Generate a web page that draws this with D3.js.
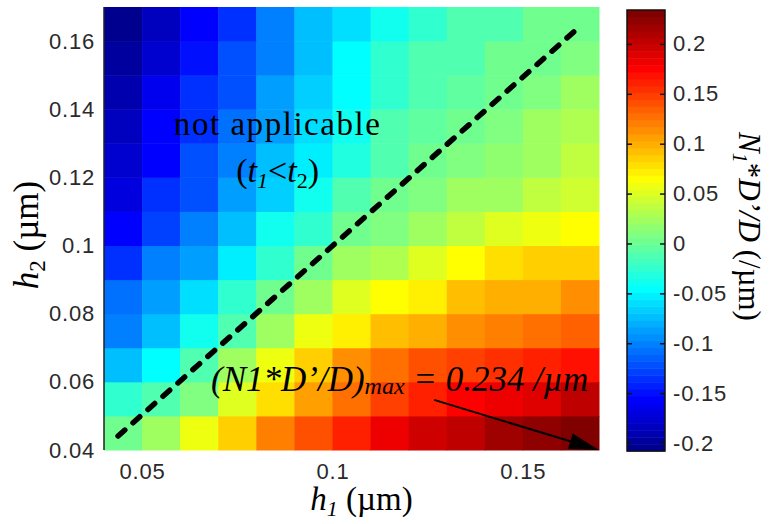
<!DOCTYPE html>
<html>
<head>
<meta charset="utf-8">
<script src="https://cdn.jsdelivr.net/npm/d3@7"></script>
<style>
  body { margin: 0; background: #fff; }
  svg { display: block; }
</style>
</head>
<body>
<svg id="chart" width="769" height="524"></svg>
<script>
// Grid corners (µm): each cell spans [h, h + step]
const h1 = [0.04, 0.05, 0.06, 0.07, 0.08, 0.09, 0.10, 0.11, 0.12, 0.13, 0.14, 0.15, 0.16];
const h2 = [0.04, 0.05, 0.06, 0.07, 0.08, 0.09, 0.10, 0.11, 0.12, 0.13, 0.14, 0.15, 0.16];

// N1*D'/D (/µm), one row per h2 (ascending), one column per h1
const ratio = [
  [ 0.000,  0.026,  0.057,  0.088,  0.117,  0.139,  0.159,  0.179,  0.194,  0.203,  0.216,  0.225,  0.234],
  [-0.027, -0.013,  0.013,  0.048,  0.079,  0.106,  0.128,  0.146,  0.163,  0.174,  0.179,  0.190,  0.201],
  [-0.071, -0.049, -0.013,  0.020,  0.057,  0.088,  0.110,  0.124,  0.139,  0.146,  0.154,  0.163,  0.168],
  [-0.098, -0.071, -0.036, -0.009,  0.026,  0.057,  0.075,  0.093,  0.101,  0.112,  0.119,  0.128,  0.137],
  [-0.111, -0.084, -0.062, -0.027,  0.000,  0.026,  0.048,  0.062,  0.075,  0.090,  0.097,  0.101,  0.110],
  [-0.133, -0.104, -0.084, -0.053, -0.022,  0.000,  0.020,  0.033,  0.048,  0.062,  0.077,  0.084,  0.088],
  [-0.153, -0.128, -0.104, -0.075, -0.042, -0.022,  0.000,  0.013,  0.026,  0.040,  0.048,  0.057,  0.062],
  [-0.170, -0.137, -0.120, -0.089, -0.067, -0.036, -0.013,  0.000,  0.013,  0.020,  0.026,  0.035,  0.044],
  [-0.179, -0.153, -0.124, -0.104, -0.075, -0.053, -0.031, -0.009,  0.000,  0.009,  0.017,  0.026,  0.035],
  [-0.186, -0.157, -0.133, -0.111, -0.084, -0.062, -0.036, -0.013, -0.005,  0.004,  0.013,  0.022,  0.031],
  [-0.190, -0.164, -0.137, -0.120, -0.089, -0.067, -0.044, -0.022, -0.011, -0.005,  0.004,  0.013,  0.020],
  [-0.195, -0.179, -0.146, -0.124, -0.098, -0.071, -0.049, -0.027, -0.013, -0.009,  0.000,  0.004,  0.013],
  [-0.208, -0.186, -0.153, -0.133, -0.098, -0.075, -0.058, -0.042, -0.027, -0.013, -0.009,  0.000,  0.000]
];

const xTicks = [0.05, 0.10, 0.15];
const yTicks = [0.04, 0.06, 0.08, 0.10, 0.12, 0.14, 0.16];
const cbTicks = [-0.2, -0.15, -0.1, -0.05, 0, 0.05, 0.1, 0.15, 0.2];

// Boundary line t1 = t2 and the annotated maximum (µm coordinates)
const equalLine = [[0.0437, 0.0441], [0.1655, 0.1648]];
const maxArrow = [[0.1267, 0.0547], [0.17, 0.04]];

// ---------------------------------------------------------------
const step = h1[1] - h1[0];
const svg = d3.select("#chart");

const plot = { left: 104, right: 599, top: 7, bottom: 450 };
const x = d3.scaleLinear().domain([h1[0], h1[h1.length - 1] + step]).range([plot.left, plot.right]);
const y = d3.scaleLinear().domain([h2[0], h2[h2.length - 1] + step]).range([plot.bottom, plot.top]);

// MATLAB-style jet(64) colormap
function jet(m) {
  const n = Math.ceil(m / 4);
  const u = [];
  for (let i = 1; i <= n; i++) u.push(i / n);
  for (let i = 1; i < n; i++) u.push(1);
  for (let i = n; i >= 1; i--) u.push(i / n);
  const off = Math.ceil(n / 2) - (m % 4 === 1 ? 1 : 0);
  const J = Array.from({ length: m }, () => [0, 0, 0]);
  u.forEach((val, k) => {
    const g = off + k + 1, r = g + n, b = g - n;
    if (g >= 1 && g <= m) J[g - 1][1] = val;
    if (r >= 1 && r <= m) J[r - 1][0] = val;
    if (b >= 1 && b <= m) J[b - 1][2] = val;
  });
  return J.map(c => d3.rgb(c[0] * 255, c[1] * 255, c[2] * 255).formatHex());
}
const jetColors = jet(64);
const cRange = d3.extent(ratio.flat());
const color = d3.scaleQuantize().domain(cRange).range(jetColors);

// Heatmap cells
const cells = [];
ratio.forEach((row, j) => row.forEach((v, i) => cells.push({ a: h1[i], b: h2[j], v })));
svg.append("g")
  .selectAll("rect")
  .data(cells)
  .join("rect")
  .attr("x", d => x(d.a))
  .attr("y", d => y(d.b + step))
  .attr("width", d => x(d.a + step) - x(d.a) + 0.5)
  .attr("height", d => y(d.b) - y(d.b + step) + 0.5)
  .attr("fill", d => color(d.v));

// Left axis edge
svg.append("line")
  .attr("x1", plot.left).attr("x2", plot.left)
  .attr("y1", plot.top).attr("y2", plot.bottom)
  .attr("stroke", "#222").attr("stroke-width", 1.5);

const fmt = d3.formatLocale({ decimal: ".", thousands: ",", grouping: [3], currency: ["", ""], minus: "-" }).format("~g");
const tickFont = "'Liberation Sans', Arial, sans-serif";
const styleTicks = sel => sel.attr("font-family", tickFont).attr("font-size", 22)
  .attr("letter-spacing", 0.8).attr("fill", "#2a2a2a");

// Axes (tick labels only; ticks hidden under the cells)
const yAxis = svg.append("g")
  .attr("transform", `translate(${plot.left},0)`)
  .call(d3.axisLeft(y).tickValues(yTicks).tickFormat(fmt).tickSize(0).tickPadding(9));
const xAxis = svg.append("g")
  .attr("transform", `translate(0,${plot.bottom})`)
  .call(d3.axisBottom(x).tickValues(xTicks).tickFormat(fmt).tickSize(0).tickPadding(13));
[xAxis, yAxis].forEach(g => {
  g.select(".domain").remove();
  styleTicks(g.selectAll("text"));
});

// Axis titles
const serif = "'Liberation Serif', 'Times New Roman', serif";
const xTitle = svg.append("text")
  .attr("x", (plot.left + plot.right) / 2 + 10).attr("y", 510)
  .attr("text-anchor", "middle").attr("font-family", serif).attr("font-size", 33).attr("fill", "#000");
xTitle.append("tspan").attr("font-style", "italic").text("h");
xTitle.append("tspan").attr("font-style", "italic").attr("font-size", 22).attr("dy", 6).text("1");
xTitle.append("tspan").attr("dy", -6).text(" (\u00b5m)");

const yTitle = svg.append("text")
  .attr("transform", `translate(38,235) rotate(-90)`)
  .attr("text-anchor", "middle").attr("font-family", serif).attr("font-size", 35).attr("fill", "#000");
yTitle.append("tspan").attr("font-style", "italic").text("h");
yTitle.append("tspan").attr("font-size", 23).attr("dy", 7).text("2");
yTitle.append("tspan").attr("dy", -7).text(" (\u00b5m)");

// Dashed boundary line
svg.append("path")
  .attr("d", d3.line().x(d => x(d[0])).y(d => y(d[1]))(equalLine))
  .attr("stroke", "#000").attr("stroke-width", 5.5)
  .attr("stroke-dasharray", "9 11").attr("stroke-linecap", "round").attr("fill", "none");

// Annotations
const note = svg.append("g").attr("font-family", serif).attr("fill", "#000");
note.append("text")
  .attr("x", x(0.0854)).attr("y", y(0.1325))
  .attr("text-anchor", "middle").attr("font-size", 33)
  .attr("textLength", 206).attr("lengthAdjust", "spacing")
  .text("not applicable");
const cond = note.append("text")
  .attr("x", x(0.0856)).attr("y", y(0.1187))
  .attr("text-anchor", "middle").attr("font-size", 34);
cond.append("tspan").text("(");
cond.append("tspan").attr("font-style", "italic").text("t");
cond.append("tspan").attr("font-style", "italic").attr("font-size", 22).attr("dy", 6).text("1");
cond.append("tspan").attr("dy", -6).text("<");
cond.append("tspan").attr("font-style", "italic").text("t");
cond.append("tspan").attr("font-size", 22).attr("dy", 6).text("2");
cond.append("tspan").attr("dy", -6).text(")");

const maxLabel = note.append("text")
  .attr("x", x(0.0681)).attr("y", y(0.0573))
  .attr("font-size", 35).attr("font-style", "italic");
maxLabel.append("tspan").text("(N1*D\u2019/D)");
maxLabel.append("tspan").attr("font-size", 24).attr("dy", 3).text("max");
maxLabel.append("tspan").attr("dy", -3).text(" = 0.234 /\u00b5m");

// Arrow to the maximum cell
const [a0, a1] = maxArrow.map(p => [x(p[0]), y(p[1])]);
const ang = Math.atan2(a1[1] - a0[1], a1[0] - a0[0]);
const headLen = 30, headW = 8;
const base = [a1[0] - headLen * Math.cos(ang), a1[1] - headLen * Math.sin(ang)];
svg.append("line")
  .attr("x1", a0[0]).attr("y1", a0[1]).attr("x2", base[0]).attr("y2", base[1])
  .attr("stroke", "#000").attr("stroke-width", 2);
svg.append("path")
  .attr("d", d3.line()([
    a1,
    [base[0] + headW * Math.sin(ang), base[1] - headW * Math.cos(ang)],
    [base[0] - headW * Math.sin(ang), base[1] + headW * Math.cos(ang)]
  ]) + "Z")
  .attr("fill", "#000");

// Colorbar
const cb = { left: 627, right: 665, top: 10, bottom: 451 };
const cy = d3.scaleLinear().domain(cRange).range([cb.bottom, cb.top]);
const bands = color.range().map(c => ({ c, ext: color.invertExtent(c) }));
svg.append("g")
  .selectAll("rect")
  .data(bands)
  .join("rect")
  .attr("x", cb.left).attr("width", cb.right - cb.left)
  .attr("y", d => cy(d.ext[1]))
  .attr("height", d => cy(d.ext[0]) - cy(d.ext[1]) + 0.5)
  .attr("fill", d => d.c);
svg.append("rect")
  .attr("x", cb.left).attr("y", cb.top)
  .attr("width", cb.right - cb.left).attr("height", cb.bottom - cb.top)
  .attr("fill", "none").attr("stroke", "#111").attr("stroke-width", 1.5);

const cbAxis = svg.append("g")
  .attr("transform", `translate(${cb.right},0)`)
  .call(d3.axisRight(cy).tickValues(cbTicks).tickFormat(fmt).tickSize(-5).tickPadding(8));
cbAxis.select(".domain").remove();
cbAxis.selectAll("line").attr("stroke", "#111").attr("stroke-width", 1.5);
styleTicks(cbAxis.selectAll("text"));
const cbAxisL = svg.append("g")
  .attr("transform", `translate(${cb.left},0)`)
  .call(d3.axisLeft(cy).tickValues(cbTicks).tickFormat("").tickSize(-5));
cbAxisL.select(".domain").remove();
cbAxisL.selectAll("line").attr("stroke", "#111").attr("stroke-width", 1.5);

const cbTitle = svg.append("text")
  .attr("transform", `translate(739,${(cb.top + cb.bottom) / 2 - 4}) rotate(90)`)
  .attr("text-anchor", "middle").attr("font-family", serif).attr("font-size", 31).attr("fill", "#000");
cbTitle.append("tspan").attr("font-style", "italic").text("N");
cbTitle.append("tspan").attr("font-style", "italic").attr("font-size", 20).attr("dy", 6).text("1");
cbTitle.append("tspan").attr("dy", -6).text("*");
cbTitle.append("tspan").attr("font-style", "italic").text("D\u2019/D");
cbTitle.append("tspan").text(" (/\u00b5m)");
</script>
</body>
</html>
